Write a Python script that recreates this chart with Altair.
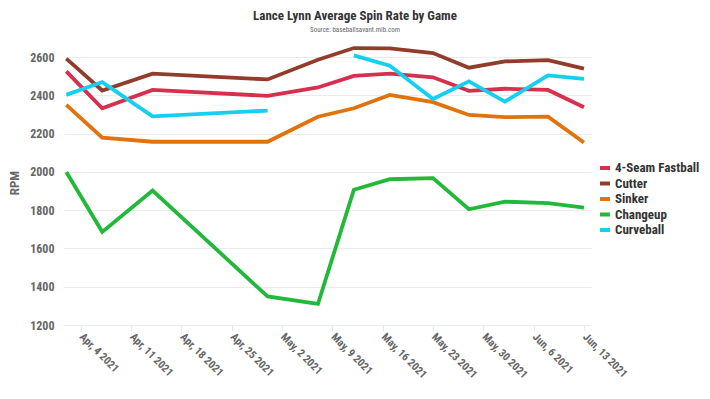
import altair as alt
import pandas as pd

dates = ["2021-04-02", "2021-04-07", "2021-04-14", "2021-04-30", "2021-05-07", "2021-05-12",
         "2021-05-17", "2021-05-23", "2021-05-28", "2021-06-02", "2021-06-08", "2021-06-13"]
pitches = ["4-Seam Fastball", "Cutter", "Sinker", "Changeup", "Curveball"]
colors = ["#d6304e", "#923d2b", "#e2720c", "#22b83a", "#14cfee"]

fastball = [2526, 2333, 2429, 2398, 2442, 2502, 2514, 2495, 2424, 2435, 2429, 2338]
cutter = [2593, 2426, 2514, 2484, 2587, 2648, 2646, 2622, 2545, 2578, 2585, 2540]
sinker = [2351, 2180, 2158, 2158, 2289, 2333, 2403, 2365, 2298, 2287, 2289, 2154]
changeup = [2000, 1687, 1903, 1349, 1310, 1907, 1962, 1968, 1805, 1845, 1837, 1814]
curveball = [2403, 2470, 2291, 2321, None, 2610, 2556, 2382, 2474, 2368, 2505, 2487]

series = [fastball, cutter, sinker, changeup, curveball]
rows = []
for name, vals in zip(pitches, series):
    for d, v in zip(dates, vals):
        rows.append({"date": d + "T00:00:00", "pitch": name, "rpm": v})
df = pd.DataFrame(rows)

tick_dates = [alt.DateTime(year=2021, month=m, date=d) for m, d in
              [(4, 4), (4, 11), (4, 18), (4, 25), (5, 2), (5, 9), (5, 16), (5, 23), (5, 30), (6, 6), (6, 13)]]

font = "Roboto Condensed, Liberation Sans Narrow, Roboto, sans-serif"

chart = alt.Chart(df).mark_line(strokeWidth=3.8, invalid="break-paths-filter-domains").encode(
    x=alt.X("date:T", title=None,
            scale=alt.Scale(domain=[alt.DateTime(year=2021, month=4, date=1, hours=13),
                                    alt.DateTime(year=2021, month=6, date=13, hours=23, minutes=30)]),
            axis=alt.Axis(values=tick_dates, format="%b, %-d %Y", labelAngle=45, labelAlign="left",
                          labelBaseline="middle", labelFont=font, labelFontWeight="bold",
                          labelFontSize=11, labelColor="#666666", grid=False, domain=True,
                          domainColor="#e6ebf2", tickColor="#e6ebf2", tickSize=6, labelPadding=4)),
    y=alt.Y("rpm:Q", title="RPM",
            scale=alt.Scale(domain=[1200, 2690], nice=False, zero=False),
            axis=alt.Axis(values=[1200, 1400, 1600, 1800, 2000, 2200, 2400, 2600], format="d",
                          domain=False, ticks=False, gridColor="#ebebeb", labelFont=font,
                          labelFontWeight="bold", labelFontSize=12, labelColor="#666666",
                          labelPadding=9, titleFont=font, titleFontSize=13, titleFontWeight="bold",
                          titleColor="#666666", titlePadding=8)),
    color=alt.Color("pitch:N", sort=pitches, title=None,
                    scale=alt.Scale(domain=pitches, range=colors),
                    legend=alt.Legend(orient="none", legendX=535, legendY=121, symbolType="stroke",
                                      symbolStrokeWidth=4, symbolSize=100, labelFont=font,
                                      labelFontSize=13, labelFontWeight="bold", labelColor="#333333",
                                      rowPadding=-0.5, labelOffset=3)),
).properties(
    width=528, height=285,
    title=alt.TitleParams("Lance Lynn Average Spin Rate by Game",
                          subtitle="Source: baseballsavant.mlb.com",
                          anchor="middle", dx=28, offset=7, font=font, fontSize=13,
                          fontWeight="bold", color="#333333", subtitleFont=font,
                          subtitleFontSize=7, subtitleColor="#666666", subtitlePadding=3),
    autosize=alt.AutoSizeParams(type="none"),
    padding={"left": 55, "top": 32, "right": 111, "bottom": 66},
).configure_view(stroke=None)

chart.save("out.html", embed_options={"renderer": "svg", "actions": False})
